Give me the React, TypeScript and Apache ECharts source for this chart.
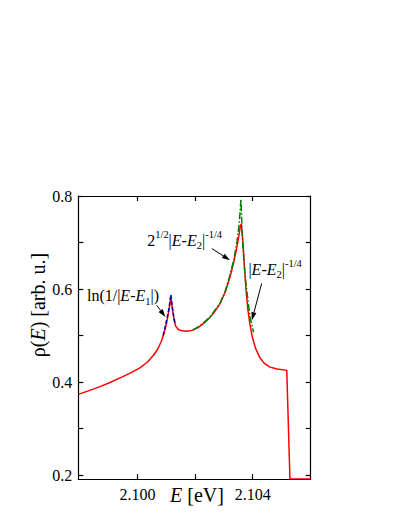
import { useEffect, useRef } from "react";
import * as echarts from "echarts";

// ---- data ----
const redE = [
  2.09797, 2.0983, 2.0987, 2.09905, 2.0994, 2.09975, 2.1001, 2.10035, 2.10055, 2.1007,
  2.10082, 2.10092, 2.101, 2.10107, 2.10112, 2.10116, 2.10119, 2.10123, 2.10127, 2.10133,
  2.10142, 2.10155, 2.10171, 2.1019, 2.1021, 2.1023, 2.10252, 2.1027, 2.10287, 2.10305,
  2.10322, 2.10335, 2.10345, 2.10352, 2.10357, 2.1036, 2.10364, 2.10368, 2.10372, 2.10377,
  2.10383, 2.1039, 2.10398, 2.1041, 2.10425, 2.1044, 2.1046, 2.10485, 2.10518, 2.10529,
  2.10601,
];
const redRho = [
  0.374, 0.381, 0.39, 0.399, 0.409, 0.419, 0.431, 0.443, 0.457, 0.47,
  0.486, 0.504, 0.523, 0.546, 0.565, 0.583, 0.568, 0.55, 0.533, 0.52,
  0.513, 0.51, 0.509, 0.511, 0.517, 0.526, 0.539, 0.553, 0.569, 0.594,
  0.628, 0.66, 0.69, 0.715, 0.735, 0.74, 0.718, 0.68, 0.64, 0.596,
  0.556, 0.525, 0.498, 0.472, 0.452, 0.44, 0.432, 0.428, 0.425, 0.1914,
  0.1914,
];
const blueE = [2.10089, 2.10096, 2.10103, 2.1011, 2.10116, 2.1012, 2.10125, 2.10131];
const blueRho = [0.5, 0.518, 0.538, 0.56, 0.588, 0.565, 0.545, 0.525];
const greenE = [
  2.10193, 2.10217, 2.10252, 2.10287, 2.10305, 2.10322, 2.10335, 2.10346, 2.10352, 2.10356,
  2.10359, 2.10361, 2.10363, 2.10366, 2.10369, 2.10374, 2.1038, 2.10386, 2.10392, 2.10398,
  2.10403,
];
const greenRho = [
  0.512, 0.521, 0.54, 0.57, 0.596, 0.632, 0.665, 0.705, 0.735, 0.765,
  0.793, 0.76, 0.722, 0.69, 0.664, 0.625, 0.593, 0.562, 0.536, 0.52,
  0.507,
];

const xMin = 2.09795;
const xMax = 2.10601;
const yMin = 0.1914;
const yMax = 0.8;
const xTicks = [2.1, 2.102, 2.104];
const xLabels = [2.1, 2.104];
const yTicks = [0.2, 0.3, 0.4, 0.5, 0.6, 0.7, 0.8];
const yLabels = [0.2, 0.4, 0.6, 0.8];

// annotations (data coords): arrow start -> tip
const arrows = [
  [2.10067, 0.565, 2.10097, 0.54],
  [2.10258, 0.687, 2.10321, 0.662],
  [2.10431, 0.612, 2.10397, 0.533],
];
// text anchors (left, middle)
const annE = [2.09825, 2.10034, 2.10385];
const annRho = [0.586, 0.705, 0.642];
const annText = [
  "{n|ln(1/|}{i|E}{n|-}{i|E}{sub|1}{n||)}",
  "{n|2}{sup|1/2}{n||}{i|E}{n|-}{i|E}{sub|2}{n||}{sup|-1/4}",
  "{n||}{i|E}{n|-}{i|E}{sub|2}{n||}{sup|-1/4}",
];

const FONT = "'Liberation Serif', 'DejaVu Serif', serif";

const richStyles = {
  n: { fontFamily: FONT, fontSize: 16, lineHeight: 22, fill: "#000", verticalAlign: "middle" },
  i: { fontFamily: FONT, fontSize: 16, fontStyle: "italic", lineHeight: 22, fill: "#000", verticalAlign: "middle" },
  sup: { fontFamily: FONT, fontSize: 10.5, lineHeight: 12, fill: "#000", verticalAlign: "top" },
  sub: { fontFamily: FONT, fontSize: 10.5, lineHeight: 12, fill: "#000", verticalAlign: "bottom" },
};

function zip(a: number[], b: number[]) {
  return a.map((v, i) => [v, b[i]]);
}

function axisCommon(isX: boolean, showLabel: boolean, position: string) {
  return {
    type: "value",
    position,
    min: isX ? xMin : yMin,
    max: isX ? xMax : yMax,
    axisLine: { show: true, onZero: false, lineStyle: { color: "#000", width: 1.2 } },
    axisTick: {
      show: true,
      inside: true,
      length: 5,
      customValues: isX ? xTicks : yTicks,
      lineStyle: { color: "#000", width: 1.2 },
    },
    axisLabel: {
      show: showLabel,
      customValues: isX ? xLabels : yLabels,
      formatter: (v: number) => (isX ? v.toFixed(3) : v.toFixed(1)),
      fontFamily: FONT,
      fontSize: 16,
      color: "#000",
      margin: isX ? 7 : 6,
    },
    splitLine: { show: false },
  };
}

export default function App() {
  const ref = useRef<HTMLDivElement>(null);
  useEffect(() => {
    const chart = echarts.init(ref.current!, null, { renderer: "svg" });
    chart.setOption({
      animation: false,
      backgroundColor: "#fff",
      grid: { left: 78.3, top: 196, width: 232.4, height: 283, containLabel: false },
      xAxis: [axisCommon(true, true, "bottom"), axisCommon(true, false, "top")],
      yAxis: [axisCommon(false, true, "left"), axisCommon(false, false, "right")],
      series: [
        {
          type: "line",
          data: zip(redE, redRho),
          showSymbol: false,
          lineStyle: { color: "#ff0000", width: 1.5 },
          z: 2,
        },
        {
          type: "line",
          data: zip(blueE, blueRho),
          showSymbol: false,
          lineStyle: { color: "#0000a0", width: 1.5, type: [4, 2] },
          z: 3,
        },
        {
          type: "line",
          data: zip(greenE, greenRho),
          showSymbol: false,
          lineStyle: { color: "#008000", width: 1.5, type: [7, 2, 1.5, 2] },
          z: 3,
        },
      ],
    });

    const toPx = (e: number, r: number) =>
      chart.convertToPixel({ seriesIndex: 0 }, [e, r]) as number[];

    const graphics: any[] = [];
    arrows.forEach(([e0, r0, e1, r1]) => {
      const [x0, y0] = toPx(e0, r0);
      const [x1, y1] = toPx(e1, r1);
      const dx = x1 - x0;
      const dy = y1 - y0;
      const len = Math.hypot(dx, dy);
      const ux = dx / len;
      const uy = dy / len;
      const hl = 8;
      const hw = 2.6;
      const bx = x1 - ux * hl;
      const by = y1 - uy * hl;
      graphics.push({
        type: "line",
        shape: { x1: x0, y1: y0, x2: bx, y2: by },
        style: { stroke: "#000", lineWidth: 1 },
        z: 10,
      });
      graphics.push({
        type: "polygon",
        shape: {
          points: [
            [x1, y1],
            [bx - uy * hw, by + ux * hw],
            [bx + uy * hw, by - ux * hw],
          ],
        },
        style: { fill: "#000" },
        z: 10,
      });
    });
    annText.forEach((t, i) => {
      const [x, y] = toPx(annE[i], annRho[i]);
      graphics.push({
        type: "text",
        x,
        y,
        style: { text: t, rich: richStyles, align: "left", verticalAlign: "middle" },
        z: 11,
      });
    });
    graphics.push({
      type: "text",
      x: 38,
      y: 305,
      rotation: Math.PI / 2,
      style: {
        text: "{n|ρ(}{i|E}{n|) [arb. u.]}",
        rich: {
          n: { fontFamily: FONT, fontSize: 20, fill: "#000" },
          i: { fontFamily: FONT, fontSize: 20, fontStyle: "italic", fill: "#000" },
        },
        align: "center",
        verticalAlign: "middle",
      },
    });
    graphics.push({
      type: "text",
      x: 197,
      y: 495,
      style: {
        text: "{i|E}{n| [eV]}",
        rich: {
          n: { fontFamily: FONT, fontSize: 20, fill: "#000" },
          i: { fontFamily: FONT, fontSize: 20, fontStyle: "italic", fill: "#000" },
        },
        align: "center",
        verticalAlign: "middle",
      },
    });
    chart.setOption({ graphic: graphics });

    return () => chart.dispose();
  }, []);
  return (
    <div
      ref={ref}
      style={{ position: "absolute", left: 0, top: 0, width: 411, height: 532 }}
    />
  );
}
